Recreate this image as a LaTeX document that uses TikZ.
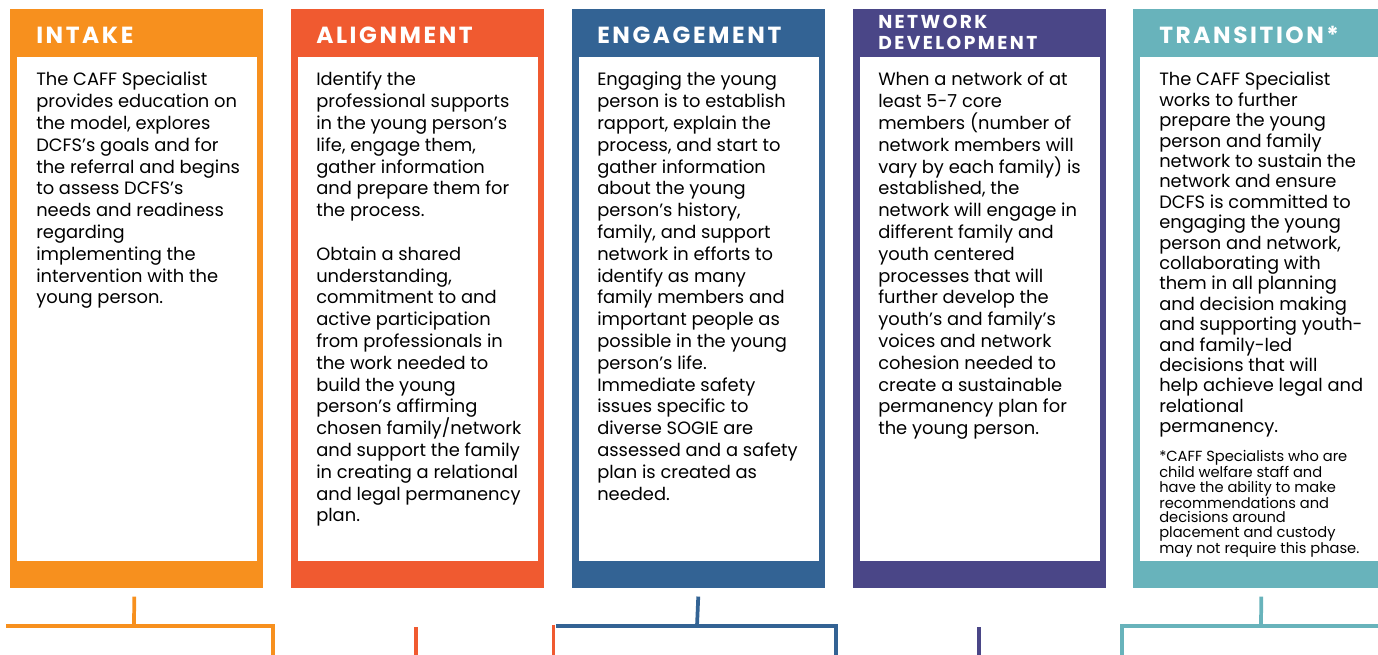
\documentclass[tikz,border=0pt]{standalone}
\usepackage{fontspec}
\setmainfont{Poppins}
\usepackage{xcolor}
\definecolor{cafforange}{HTML}{F7901E}
\definecolor{caffred}{HTML}{F05A30}
\definecolor{caffblue}{HTML}{336394}
\definecolor{caffpurple}{HTML}{4A4687}
\definecolor{caffteal}{HTML}{68B3BB}
\usetikzlibrary{calc,positioning}
\tikzset{
  caffbar/.style={fill=#1,draw=none,anchor=north west,inner sep=0pt,minimum width=189.75pt,minimum height=434.25pt},
  caffpanel/.style={fill=white,anchor=north west,inner sep=0pt,minimum width=180pt,minimum height=378pt},
  caffhead/.style={anchor=base west,inner sep=0pt,text=white,font=\bfseries\fontsize{17.5}{17.5}\selectfont\addfontfeatures{LetterSpace=11}},
  cafftext/.style={anchor=north west,inner sep=0pt,align=left,font=\fontsize{13.4}{16.35}\selectfont},
  cafflink/.style={draw=#1,line width=2.8pt},
}

\begin{document}
\begin{tikzpicture}[x=0.75pt,y=-0.75pt]
\useasboundingbox (0,0) rectangle (1378,654);
\clip (0,0) rectangle (1378,654);

% phase columns
\node[caffbar=cafforange] (intake) at (10,9) {};
\node[caffbar=caffred] (align) at (290.75,9) {};
\node[caffbar=caffblue] (engage) at (571.5,9) {};
\node[caffbar=caffpurple] (network) at (852.25,9) {};
\node[caffbar=caffteal] (trans) at (1133,9) {};

\node[caffpanel] (intakep) at (17,57) {};
\node[caffpanel] (alignp) at (297.75,57) {};
\node[caffpanel] (engagep) at (578.5,57) {};
\node[caffpanel] (networkp) at (859.25,57) {};
\node[caffpanel] (transp) at (1140,57) {};

% headings
\node[caffhead] (intakeh) at (36,43.5) {INTAKE};
\node[caffhead] (alignh) at (316,43.5) {ALIGNMENT};
\node[caffhead] (engageh) at (597,43.5) {ENGAGEMENT};
\node[caffhead,anchor=north west,align=left,font=\bfseries\fontsize{14}{15.75}\selectfont\addfontfeatures{LetterSpace=13}] (networkh) at (878,15) {NETWORK\\DEVELOPMENT};
\node[caffhead] (transh) at (1159,43.5) {TRANSITION*};

% body texts
\node[cafftext] (intaket) at (36,72) {The CAFF Specialist\\provides education on\\the model, explores\\DCFS’s goals and for\\the referral and begins\\to assess DCFS’s\\needs and readiness\\regarding\\implementing the\\intervention with the\\young person.};
\node[cafftext] (alignt) at (316,72) {Identify the\\professional supports\\in the young person’s\\life, engage them,\\gather information\\and prepare them for\\the process.\\[16.35pt]Obtain a shared\\understanding,\\commitment to and\\active participation\\from professionals in\\the work needed to\\build the young\\person’s affirming\\chosen family/network\\and support the family\\in creating a relational\\and legal permanency\\plan.};
\node[cafftext] (engaget) at (597,72) {Engaging the young\\person is to establish\\rapport, explain the\\process, and start to\\gather information\\about the young\\person’s history,\\family, and support\\network in efforts to\\identify as many\\family members and\\important people as\\possible in the young\\person’s life.\\Immediate safety\\issues specific to\\diverse SOGIE are\\assessed and a safety\\plan is created as\\needed.};
\node[cafftext] (networkt) at (878,72) {When a network of at\\least 5-7 core\\members (number of\\network members will\\vary by each family) is\\established, the\\network will engage in\\different family and\\youth centered\\processes that will\\further develop the\\youth's and family's\\voices and network\\cohesion needed to\\create a sustainable\\permanency plan for\\the young person.};
\node[cafftext,font=\fontsize{13.4}{15.3}\selectfont] (transt) at (1159,72) {The CAFF Specialist\\works to further\\prepare the young\\person and family\\network to sustain the\\network and ensure\\DCFS is committed to\\engaging the young\\person and network,\\collaborating with\\them in all planning\\and decision making\\and supporting youth-\\and family-led\\decisions that will\\help achieve legal and\\relational\\permanency.};
\node[cafftext,font=\fontsize{11}{11}\selectfont,below=9pt of transt.south west,anchor=north west] (transn) {*CAFF Specialists who are\\child welfare staff and\\have the ability to make\\recommendations and\\decisions around\\placement and custody\\may not require this phase.};

% links below the columns
\coordinate (intakej) at (134,626);
\coordinate (intakel) at (6,626);
\coordinate (intaker) at (273,626);
\coordinate (intaked) at (273,660);
\draw[cafflink=cafforange] ($(intake.south)+(-2.5,8)$) -- (intakej);
\draw[cafflink=cafforange] (intakel) -- (intaker) -- (intaked);

\coordinate (aligna) at (416,627);
\coordinate (alignb) at (416,660);
\coordinate (alignc) at (553.5,624.5);
\coordinate (alignd) at (553.5,660);
\draw[cafflink=caffred] (aligna) -- (alignb);

\coordinate (engagej) at (697,626);
\coordinate (engagel) at (556,626);
\coordinate (engager) at (836,626);
\coordinate (engaged) at (836,660);
\draw[cafflink=caffblue] ($(engage.south)+(0,8)$) -- (engagej);
\draw[cafflink=caffblue] (engagel) -- (engager) -- (engaged);
\draw[cafflink=caffred] (alignc) -- (alignd);

\coordinate (networka) at (979,627);
\coordinate (networkb) at (979,660);
\draw[cafflink=caffpurple] (networka) -- (networkb);

\coordinate (transj) at (1261,626);
\coordinate (transl) at (1122,660);
\coordinate (transc) at (1122,626);
\coordinate (transr) at (1390,626);
\draw[cafflink=caffteal] ($(trans.south)+(1.5,8)$) -- (transj);
\draw[cafflink=caffteal] (transl) -- (transc) -- (transr);
\end{tikzpicture}
\end{document}
